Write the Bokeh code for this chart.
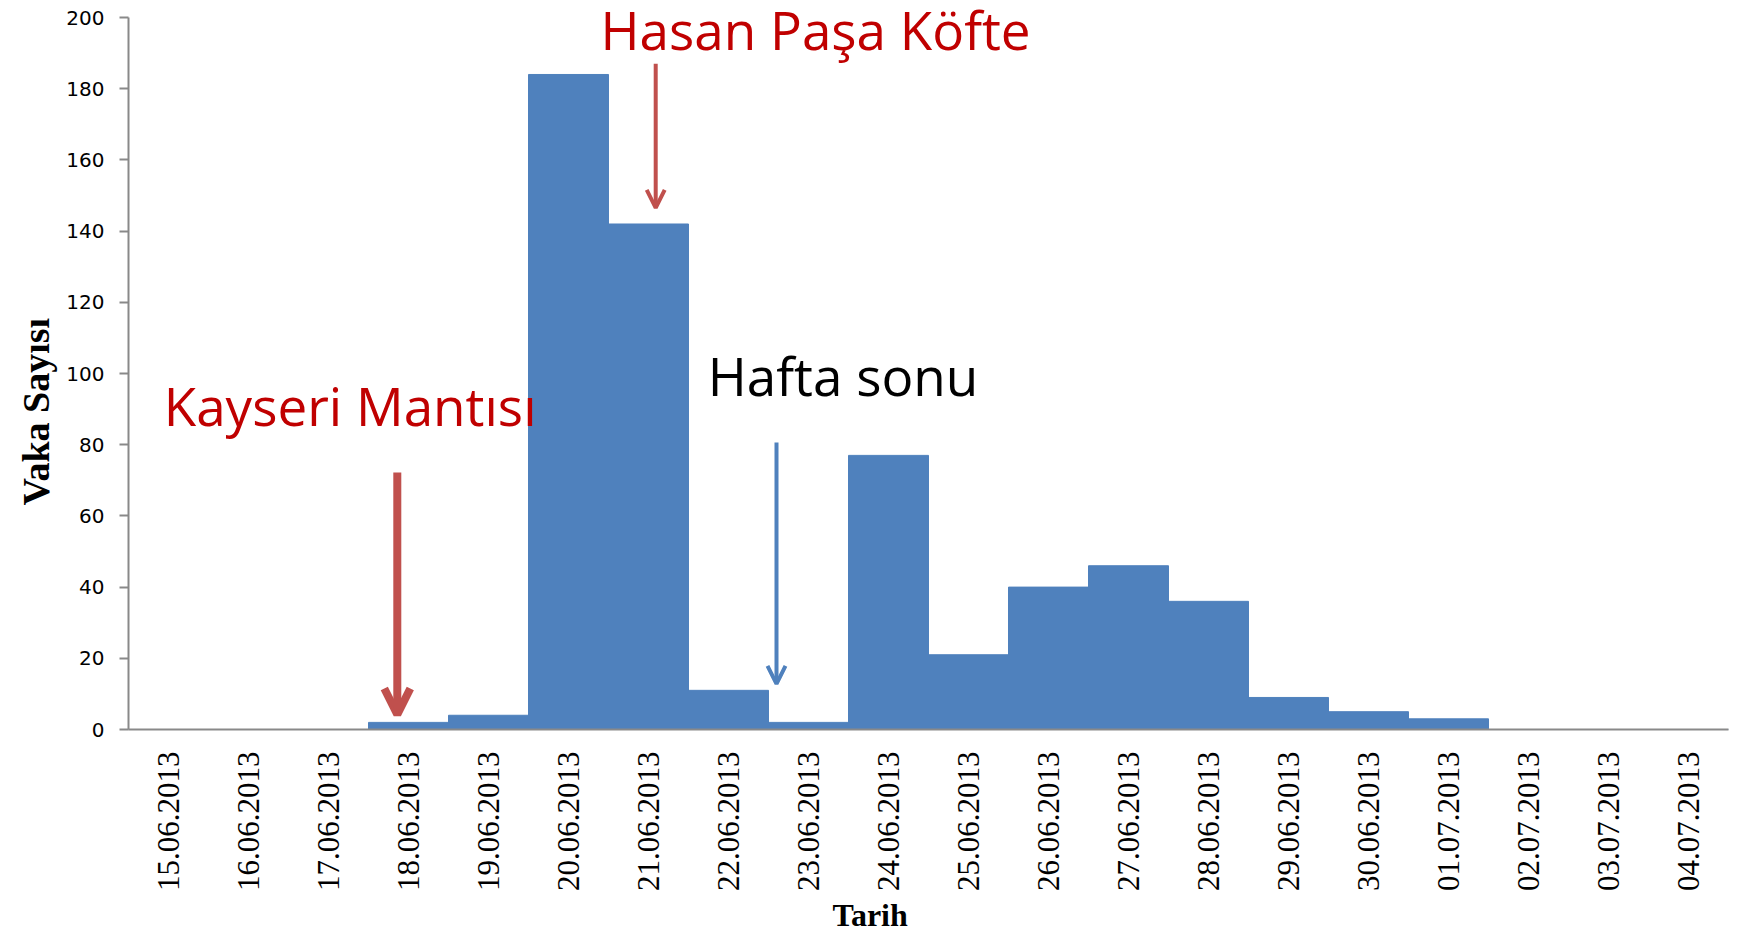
from bokeh.plotting import figure
from bokeh.models import (Range1d, FixedTicker, Label, Arrow, OpenHead, ColumnDataSource, Title)
from bokeh.embed import file_html
from bokeh.resources import INLINE
import math

# ---- data ----
dates = ["15.06.2013", "16.06.2013", "17.06.2013", "18.06.2013", "19.06.2013",
         "20.06.2013", "21.06.2013", "22.06.2013", "23.06.2013", "24.06.2013",
         "25.06.2013", "26.06.2013", "27.06.2013", "28.06.2013", "29.06.2013",
         "30.06.2013", "01.07.2013", "02.07.2013", "03.07.2013", "04.07.2013"]
cases = [0, 0, 0, 2, 4, 184, 142, 11, 2, 77, 21, 40, 46, 36, 9, 5, 3, 0, 0, 0]
y_ticks = [0, 20, 40, 60, 80, 100, 120, 140, 160, 180, 200]
x_title = "Tarih"
y_title = "Vaka Sayısı"

# annotations: (text, x, y, color)
notes = [("Kayseri Mantısı", 0.44, 91.0, "#C00000"),
         ("Hasan Paşa Köfte", 5.9, 196.5, "#C00000"),
         ("Hafta sonu", 7.24, 99.5, "#000000")]
# arrows: (x, y_start, y_end, color, width, head)
arrows = [(3.36, 72.2, 4.2, "#C0504D", 8, 26),
          (6.59, 187.0, 146.5, "#C0504D", 4, 18),
          (8.1, 80.6, 12.8, "#4F81BD", 4, 18)]

xs = [i + 0.5 for i in range(len(dates))]
src = ColumnDataSource(dict(x=xs, top=cases))

p = figure(width=1740, height=933, output_backend="svg", toolbar_location=None,
           x_range=Range1d(0, len(dates)), y_range=Range1d(0, 204.78),
           min_border_left=128, min_border_right=12, min_border_top=0,
           min_border_bottom=204)
p.outline_line_color = None
p.xgrid.visible = False
p.ygrid.visible = False
p.background_fill_color = "white"

p.vbar(x="x", top="top", width=1.0, bottom=0, source=src,
       fill_color="#4F81BD", line_color="#4F81BD", line_width=1)

# x axis
xa = p.xaxis[0]
xa.ticker = FixedTicker(ticks=xs)
xa.major_label_overrides = {x: d for x, d in zip(xs, dates)}
xa.major_label_orientation = math.pi / 2
xa.major_label_text_font = "Liberation Serif"
xa.major_label_text_font_size = "31px"
xa.major_label_text_color = "#000000"
xa.major_label_standoff = 16
xa.major_tick_line_color = None
xa.minor_tick_line_color = None
xa.axis_line_color = "#898989"
xa.axis_line_width = 2

# y axis
ya = p.yaxis[0]
ya.ticker = FixedTicker(ticks=y_ticks)
ya.bounds = (0, 200)
ya.major_label_text_font = "DejaVu Sans"
ya.major_label_text_font_size = "20px"
ya.major_label_text_color = "#000000"
ya.major_tick_out = 9
ya.major_tick_in = 0
ya.major_tick_line_color = "#898989"
ya.major_tick_line_width = 2
ya.minor_tick_line_color = None
ya.axis_line_color = "#898989"
ya.axis_line_width = 2
ya.major_label_standoff = 15

# axis titles as side-panel titles
p.add_layout(Title(text=x_title, align="left", offset=704, standoff=0,
                   text_font="Liberation Serif", text_font_style="bold",
                   text_font_size="32px", text_color="#000000"), "below")
p.add_layout(Title(text=y_title, align="left", offset=224, standoff=10,
                   vertical_align="top",
                   text_font="Liberation Serif", text_font_style="bold",
                   text_font_size="38px", text_color="#000000"), "left")

for (t, x, y, c) in notes:
    p.add_layout(Label(x=x, y=y, text=t, text_color=c, text_font="Open Sans",
                       text_font_size="53px", text_baseline="alphabetic"))

for (x, y0, y1, c, w, hs) in arrows:
    p.add_layout(Arrow(x_start=x, y_start=y0, x_end=x, y_end=y1,
                       line_color=c, line_width=w,
                       end=OpenHead(size=hs, line_color=c, line_width=w)))

open("out.html", "w").write(file_html(p, INLINE))
